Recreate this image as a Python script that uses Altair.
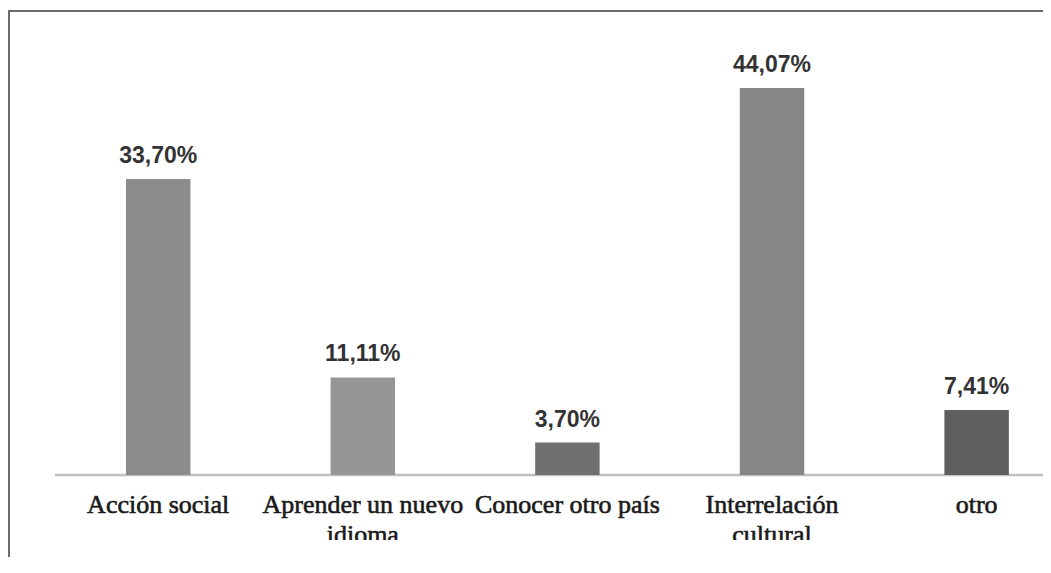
import altair as alt
import pandas as pd

categories = ["Acción social", "Aprender un nuevo idioma", "Conocer otro país",
              "Interrelación cultural", "otro"]
axis_labels = ["Acción social", "Aprender un nuevo\nidioma", "Conocer otro país",
               "Interrelación\ncultural", "otro"]
values = [33.70, 11.11, 3.70, 44.07, 7.41]
bar_colors = ["#8c8c8c", "#969696", "#6f6f6f", "#868686", "#5f5f5f"]

df = pd.DataFrame({
    "cat": categories,
    "label": axis_labels,
    "value": values,
    "zero": [0] * len(values),
    "pct": [f"{v:.2f}%".replace(".", ",") for v in values],
})
one = pd.DataFrame({"zero": [0]})

x_enc = alt.X("cat:N", sort=categories, axis=None,
              scale=alt.Scale(paddingInner=0.685, paddingOuter=0.2545, align=0.672,
                              round=False))
y_scale = alt.Scale(domain=[-7.403, 50], nice=False, zero=False)

bars = alt.Chart(df).mark_bar().encode(
    x=x_enc,
    y=alt.Y("value:Q", scale=y_scale, axis=None),
    y2="zero:Q",
    color=alt.Color("cat:N", scale=alt.Scale(domain=categories, range=bar_colors), legend=None),
)

pct = alt.Chart(df).mark_text(
    baseline="alphabetic", dy=-16, font="Liberation Sans", fontWeight="bold",
    fontSize=23, color="#333333",
).encode(x=x_enc, y=alt.Y("value:Q", scale=y_scale, axis=None), text="pct:N")

cat_labels = alt.Chart(df).mark_text(
    baseline="alphabetic", dy=38, font="Liberation Serif", fontSize=26,
    color="#1a1a1a", stroke="#1a1a1a", strokeWidth=0.6,
    lineBreak="\n", lineHeight=30, clip=True,
).encode(x=x_enc, y=alt.Y("zero:Q", scale=y_scale, axis=None), text="label:N")

baseline = alt.Chart(one).mark_rule(color="#bfbfbf", strokeWidth=2.5).encode(
    y=alt.Y("zero:Q", scale=y_scale, axis=None), x=alt.value(-1), x2=alt.value(1100))

border_left = alt.Chart(one).mark_rule(color="#6a6a6a", strokeWidth=2).encode(
    x=alt.value(-47), y=alt.value(-26), y2=alt.value(560))
border_top = alt.Chart(one).mark_rule(color="#6a6a6a", strokeWidth=2).encode(
    y=alt.value(-25), x=alt.value(-48), x2=alt.value(1100))

chart = alt.layer(baseline, bars, pct, cat_labels, border_left, border_top).properties(
    width=987, height=504,
    autosize=alt.AutoSizeParams(type="none"),
    padding={"left": 48, "top": 28, "right": 0, "bottom": 17},
    background="white",
).configure_view(stroke=None)

chart.save("out.html", embed_options={"renderer": "svg", "actions": False})
